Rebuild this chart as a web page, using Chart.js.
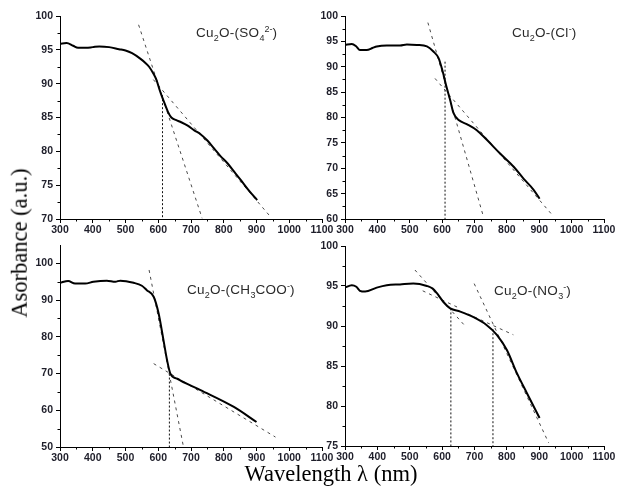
<!DOCTYPE html>
<html>
<head>
<meta charset="utf-8">
<script src="https://cdn.jsdelivr.net/npm/chart.js@4.4.1/dist/chart.umd.min.js"></script>
<style>
  html, body { margin: 0; padding: 0; background: #fff; }
  #wrap { position: relative; width: 621px; height: 491px; overflow: hidden; background: #fff; }
  canvas { position: absolute; }
  .lbl { position: absolute; font-family: "Liberation Sans", Arial, sans-serif; font-size: 13.5px; letter-spacing: 0.3px; color: #2b2b2b; white-space: nowrap; line-height: 1; }
  .lbl sub, .lbl sup { font-size: 9px; line-height: 0; letter-spacing: 0; }
  .ttl { position: absolute; font-family: "Liberation Serif", "Times New Roman", serif; font-size: 22.5px; color: #000; white-space: nowrap; line-height: 1; }
</style>
</head>
<body>
<div id="wrap">
  <canvas id="c1" width="335" height="235" style="left:0;top:0;"></canvas>
  <canvas id="c2" width="321" height="235" style="left:300px;top:0;"></canvas>
  <canvas id="c3" width="335" height="228" style="left:0;top:235px;"></canvas>
  <canvas id="c4" width="321" height="227" style="left:300px;top:235px;"></canvas>
  <div class="lbl" style="left:196px;top:26px;">Cu<sub>2</sub>O-(SO<sub>4</sub><sup>2-</sup>)</div>
  <div class="lbl" style="left:512px;top:26px;">Cu<sub>2</sub>O-(Cl<sup>-</sup>)</div>
  <div class="lbl" style="left:187px;top:283px;">Cu<sub>2</sub>O-(CH<sub>3</sub>COO<sup>-</sup>)</div>
  <div class="lbl" style="left:494px;top:284px;">Cu<sub>2</sub>O-(NO<sub>3</sub><sup>-</sup>)</div>
  <div class="ttl" style="left:20px;top:243px;transform:translate(-50%,-50%) rotate(-90deg);">Asorbance (a.u.)</div>
  <div class="ttl" style="left:331px;top:463px;transform:translateX(-50%);">Wavelength λ (nm)</div>
</div>
<script>
// ---------- data ----------
const xTicks = [300, 400, 500, 600, 700, 800, 900, 1000, 1100];

// Panel 1: Cu2O-(SO4 2-)
const so4Nm  = [300,320,340,355,380,400,420,450,480,500,520,545,560,572,585,595,604,612,620,630,640,655,670,690,710,730,750,771,790,812,830,853,877,902];
const so4Abs = [95.9,96.0,95.6,95.3,95.3,95.4,95.5,95.4,95.1,94.9,94.5,93.7,93.1,92.5,91.5,90.5,89.1,88.0,87.0,85.8,85.0,84.6,84.3,83.8,83.1,82.5,81.6,80.4,79.3,78.2,77.1,75.7,74.2,72.8];
const so4TanSteepNm = [540, 734],  so4TanSteepAbs = [98.7, 70.1];
const so4TanFlatNm  = [585, 945],  so4TanFlatAbs  = [90.6, 70.2];
const so4EdgeNm = [613, 613],      so4EdgeAbs = [88.3, 70];

// Panel 2: Cu2O-(Cl-)
const clNm  = [300,321,335,346,367,385,398,429,470,491,522,553,573,589,602,612,625,635,651,676,707,738,779,821,852,882,901];
const clAbs = [94.3,94.5,94.0,93.3,93.3,93.7,94.0,94.2,94.2,94.4,94.3,94.0,93.0,91.7,89.0,86.4,83.4,80.9,79.5,78.7,77.5,75.6,72.9,70.3,67.9,65.8,64.0];
const clTanSteepNm = [556, 726],   clTanSteepAbs = [98.7, 60.8];
const clTanFlatNm  = [578, 936],   clTanFlatAbs  = [87.7, 61.1];
const clEdgeNm = [609, 609],       clEdgeAbs = [91.0, 60];

// Panel 3: Cu2O-(CH3COO-)
const acNm  = [300,325,346,377,402,443,469,484,525,550,565,586,601,616,627,637,657,729,831,900];
const acAbs = [94.7,95.2,94.5,94.5,95.0,95.3,95.0,95.3,94.7,93.9,92.7,90.9,86.4,79.1,73.6,70.0,68.6,65.5,60.9,56.8];
const acTanSteepNm = [572, 676],   acTanSteepAbs = [98.2, 50.5];
const acTanFlatNm  = [586, 958],   acTanFlatAbs  = [72.7, 52.7];
const acEdgeNm = [634, 634],       acEdgeAbs = [70.0, 50];

// Panel 4: Cu2O-(NO3-)
const no3Nm  = [300,321,335,346,362,398,429,470,511,553,570,584,604,625,656,697,738,769,800,831,862,901];
const no3Abs = [94.8,95.1,94.9,94.4,94.3,94.8,95.1,95.2,95.3,95.0,94.7,94.1,93.0,92.2,91.8,91.1,90.1,88.9,87.0,84.1,81.6,78.5];
const no3Tan1Nm = [516, 671],      no3Tan1Abs = [97.0, 90.0];
const no3Tan2Nm = [540, 650],      no3Tan2Abs = [94.4, 92.3];
const no3Tan3Nm = [699, 929],      no3Tan3Abs = [95.3, 75.4];
const no3Tan4Nm = [680, 820],      no3Tan4Abs = [91.5, 88.9];
const no3Edge1Nm = [627, 627],     no3Edge1Abs = [92.2, 75];
const no3Edge2Nm = [757, 757],     no3Edge2Abs = [89.6, 75];

// y-axis settings per panel
const yRanges = {
  p1: { min: 70, max: 100, step: 5 },
  p2: { min: 60, max: 100, step: 5 },
  p3: { min: 50, max: 105, step: 10 },
  p4: { min: 75, max: 100, step: 5 }
};

// ---------- helpers ----------
function pts(xs, ys) { return xs.map((x, i) => ({ x: x, y: ys[i] })); }
function curve(xs, ys) {
  return { data: pts(xs, ys), borderColor: '#000', borderWidth: 2, pointRadius: 0, tension: 0.35, cubicInterpolationMode: 'monotone', fill: false, order: 0 };
}
function tangent(xs, ys) {
  return { data: pts(xs, ys), borderColor: '#4a4a4a', borderWidth: 1, borderDash: [3, 4], pointRadius: 0, fill: false, order: 1 };
}
function edge(xs, ys) {
  return { data: pts(xs, ys), borderColor: '#111', borderWidth: 1, borderDash: [2, 2], pointRadius: 0, fill: false, order: 1 };
}

const minorTicks = {
  id: 'minorTicks',
  afterDraw(chart) {
    const ctx = chart.ctx, xs = chart.scales.x, ys = chart.scales.y;
    ctx.save();
    ctx.strokeStyle = '#000';
    ctx.lineWidth = 1;
    const xst = 100;
    for (let v = xs.min + xst / 2; v < xs.max; v += xst) {
      const px = Math.round(xs.getPixelForValue(v)) + 0.5;
      ctx.beginPath(); ctx.moveTo(px, ys.bottom); ctx.lineTo(px, ys.bottom + 2.5); ctx.stroke();
    }
    const yst = chart.options.scales.y.ticks.stepSize;
    for (let v = ys.min + yst / 2; v < ys.max; v += yst) {
      const py = Math.round(ys.getPixelForValue(v)) + 0.5;
      ctx.beginPath(); ctx.moveTo(xs.left, py); ctx.lineTo(xs.left - 2.5, py); ctx.stroke();
    }
    ctx.restore();
  }
};

const tickFont = { family: '"Liberation Sans", Arial, sans-serif', size: 10.5, weight: 'bold' };

function makeChart(id, datasets, yr, pad) {
  return new Chart(document.getElementById(id), {
    type: 'line',
    data: { datasets: datasets },
    plugins: [minorTicks],
    options: {
      responsive: false,
      animation: false,
      layout: { padding: pad },
      plugins: { legend: { display: false }, tooltip: { enabled: false } },
      scales: {
        x: {
          type: 'linear', min: xTicks[0], max: xTicks[xTicks.length - 1],
          afterBuildTicks: (s) => { s.ticks = xTicks.map(v => ({ value: v })); },
          ticks: { font: tickFont, color: '#1e1e2a', padding: 1, maxRotation: 0, autoSkip: false, callback: (v) => String(v) },
          grid: { display: true, drawOnChartArea: false, drawTicks: true, tickLength: 4, color: '#000' },
          border: { display: true, color: '#000', width: 1 },
          afterFit: (s) => { s.height = 16; }
        },
        y: {
          type: 'linear', min: yr.min, max: yr.max,
          ticks: { stepSize: yr.step, includeBounds: false, font: tickFont, color: '#1e1e2a', padding: 3, callback: (v) => String(v) },
          grid: { display: true, drawOnChartArea: false, drawTicks: true, tickLength: 4, color: '#000' },
          border: { display: true, color: '#000', width: 1 },
          afterFit: (s) => { s.width = 40; }
        }
      }
    }
  });
}

makeChart('c1', [
  curve(so4Nm, so4Abs),
  tangent(so4TanSteepNm, so4TanSteepAbs),
  tangent(so4TanFlatNm, so4TanFlatAbs),
  edge(so4EdgeNm, so4EdgeAbs)
], yRanges.p1, { left: 20, top: 16, right: 13, bottom: 0 });

makeChart('c2', [
  curve(clNm, clAbs),
  tangent(clTanSteepNm, clTanSteepAbs),
  tangent(clTanFlatNm, clTanFlatAbs),
  edge(clEdgeNm, clEdgeAbs)
], yRanges.p2, { left: 5, top: 16, right: 17, bottom: 0 });

makeChart('c3', [
  curve(acNm, acAbs),
  tangent(acTanSteepNm, acTanSteepAbs),
  tangent(acTanFlatNm, acTanFlatAbs),
  edge(acEdgeNm, acEdgeAbs)
], yRanges.p3, { left: 20, top: 10, right: 13, bottom: 0 });

makeChart('c4', [
  curve(no3Nm, no3Abs),
  tangent(no3Tan1Nm, no3Tan1Abs),
  tangent(no3Tan2Nm, no3Tan2Abs),
  tangent(no3Tan3Nm, no3Tan3Abs),
  tangent(no3Tan4Nm, no3Tan4Abs),
  edge(no3Edge1Nm, no3Edge1Abs),
  edge(no3Edge2Nm, no3Edge2Abs)
], yRanges.p4, { left: 5, top: 11, right: 17, bottom: 0 });
</script>
</body>
</html>
